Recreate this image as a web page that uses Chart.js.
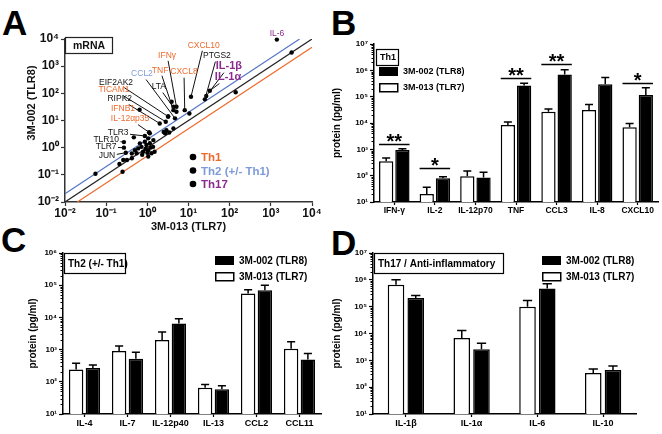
<!DOCTYPE html>
<html>
<head>
<meta charset="utf-8">
<script src="https://cdn.jsdelivr.net/npm/chart.js@4.4.0/dist/chart.umd.min.js"></script>
<style>
body { margin: 0; background: #fff; width: 662px; height: 434px; position: relative; overflow: hidden; font-family: "Liberation Sans", Arial, sans-serif; }
canvas { position: absolute; }
.letter { position: absolute; font-weight: bold; font-size: 35px; line-height: 1; color: #000; }
</style>
</head>
<body>
<div class="letter" style="left:2px;top:5px">A</div>
<div class="letter" style="left:331px;top:5px">B</div>
<div class="letter" style="left:1px;top:222px">C</div>
<div class="letter" style="left:331px;top:225px">D</div>
<canvas id="cA" width="330" height="236" style="left:0;top:0"></canvas>
<canvas id="cB" width="332" height="220" style="left:330px;top:0"></canvas>
<canvas id="cC" width="330" height="214" style="left:0;top:220px"></canvas>
<canvas id="cD" width="332" height="214" style="left:330px;top:220px"></canvas>
<script>
// ---- panel A: mRNA fold change, 3M-013 (x) vs 3M-002 (y)
const geneNames = ['IL-6', 'CXCL10', 'PTGS2', 'IL-1β', 'IL-1α', 'IFNγ', 'TNF', 'CXCL8', 'CCL2', 'LTA',
  'EIF2AK2', 'TICAM1', 'RIPK2', 'IFNB1', 'IL-12αp35', 'TLR3', 'TLR10', 'TLR7', 'JUN'];
const geneGroup = ['Th17', 'Th1', '', 'Th17', 'Th17', 'Th1', 'Th1', 'Th1', 'Th2', '',
  '', 'Th1', '', 'Th1', 'Th1', '', '', '', ''];
const geneXY = [[1400, 9500], [11.5, 75], [25, 60], [27, 80], [33, 125], [5.1, 32], [4.3, 24], [8.1, 24], [4.7, 12], [5.1, 21],
  [3.2, 14], [2.8, 9], [2.0, 7.8], [0.65, 25], [1.1, 3.7], [0.87, 2.7], [0.27, 1.6], [0.27, 1.0], [0.3, 0.65]];
const otherXY = [[3200, 3200], [140, 110], [10.5, 18], [0.055, 0.11], [0.21, 0.25], [0.25, 0.13], [0.26, 0.35],
  [0.42, 0.61], [0.5, 0.8], [0.6, 0.94], [0.72, 1.07], [0.79, 0.71], [0.95, 1.25], [1.05, 0.81], [1.15, 1.45],
  [1.26, 0.62], [0.87, 1.66], [0.66, 1.44], [0.55, 0.62], [0.42, 0.41], [0.32, 0.35], [1.4, 1.9], [1.05, 2.2],
  [1.15, 3.4], [1.38, 1.07], [1.5, 0.71], [2.5, 3.8], [2.9, 4.4], [2.7, 3.4], [4.3, 5.1], [3.2, 14], [4.3, 32],
  [3.9, 49], [0.47, 2.4], [1.05, 0.47], [1.0, 0.65], [3.4, 3.6], [0.9, 0.9], [0.75, 0.55], [1.2, 1.0]];
const identityLine = [[0.01, 0.01], [10000, 10000]];
const upperLine = [[0.01, 0.02], [5000, 10000]];
const lowerLine = [[0.02, 0.01], [10000, 5000]];

// ---- panel B: Th1 proteins (pg/ml)
const th1Cats = ['IFN-γ', 'IL-2', 'IL-12p70', 'TNF', 'CCL3', 'IL-8', 'CXCL10'];
const th1Tlr7 = [350, 20, 95, 8400, 27000, 31000, 6900];
const th1Tlr7Err = [470, 36, 150, 11000, 34000, 50000, 9500];
const th1Tlr8 = [950, 80, 85, 265000, 690000, 295000, 115000];
const th1Tlr8Err = [1050, 90, 135, 320000, 1050000, 530000, 220000];
const th1Sig = ['**', '*', '', '**', '**', '', '*'];
const th1SigAt = [1600, 200, null, 500000, 1700000, null, 320000];

// ---- panel C: Th2 (+/- Th1) proteins
const th2Cats = ['IL-4', 'IL-7', 'IL-12p40', 'IL-13', 'CCL2', 'CCL11'];
const th2Tlr7 = [240, 900, 2000, 65, 55000, 1070];
const th2Tlr7Err = [380, 1300, 3500, 83, 72000, 1750];
const th2Tlr8 = [270, 520, 6500, 59, 70000, 490];
const th2Tlr8Err = [330, 830, 9100, 76, 100000, 750];

// ---- panel D: Th17 / anti-inflammatory proteins
const th17Cats = ['IL-1β', 'IL-1α', 'IL-6', 'IL-10'];
const th17Tlr7 = [650000, 6800, 100000, 340];
const th17Tlr7Err = [1000000, 13000, 170000, 480];
const th17Tlr8 = [210000, 2600, 480000, 440];
const th17Tlr8Err = [260000, 4300, 720000, 610];

const FONT = '"Liberation Sans", Arial, sans-serif';
const ORANGE = '#ee6a2c', BLUE = '#7d9bd8', PURPLE = '#8a2a8e';
const groupColor = { Th1: ORANGE, Th2: BLUE, Th17: PURPLE, '': '#111' };

// label centres for panel A, in log10 data units
const geneLabelPos = [[3.15, 4.21], [1.37, 3.77], [1.69, 3.37], [1.98, 3.0], [1.96, 2.6], [0.48, 3.4], [0.31, 2.85], [0.89, 2.78],
  [-0.13, 2.71], [0.28, 2.23], [-0.76, 2.41], [-0.81, 2.12], [-0.67, 1.79], [-0.59, 1.42], [-0.42, 1.05], [-0.71, 0.54],
  [-1.0, 0.28], [-1.0, 0.02], [-0.98, -0.31]];

const SUP = { '-': '⁻', '0': '⁰', '1': '¹', '2': '²', '3': '³', '4': '⁴', '5': '⁵', '6': '⁶', '7': '⁷', '8': '⁸', '9': '⁹' };
function powLabel(v) {
  const e = Math.round(Math.log10(v));
  return '10' + String(e).split('').map(c => SUP[c]).join('');
}
function decades(a, b) {
  const t = [];
  for (let e = a; e <= b; e++) t.push({ value: Math.pow(10, e) });
  return t;
}
const xy = arr => arr.map(p => ({ x: p[0], y: p[1] }));

// small minor ticks on a log y axis
const minorTicks = {
  id: 'minorTicks',
  afterDraw(chart) {
    const y = chart.scales.y, ctx = chart.ctx;
    ctx.save();
    ctx.strokeStyle = '#000';
    ctx.lineWidth = 1;
    ctx.beginPath();
    const lo = Math.round(Math.log10(y.min)), hi = Math.round(Math.log10(y.max));
    for (let e = lo; e < hi; e++) {
      for (let k = 2; k < 10; k++) {
        const p = Math.round(y.getPixelForValue(k * Math.pow(10, e))) + 0.5;
        ctx.moveTo(y.right - 2.5, p);
        ctx.lineTo(y.right, p);
      }
    }
    ctx.stroke();
    ctx.restore();
  }
};

function errorBars(errs) {
  return {
    id: 'errorBars',
    afterDatasetsDraw(chart) {
      const ctx = chart.ctx, y = chart.scales.y;
      ctx.save();
      ctx.strokeStyle = '#000';
      ctx.lineWidth = 1.5;
      errs.forEach((arr, di) => {
        chart.getDatasetMeta(di).data.forEach((bar, i) => {
          const top = y.getPixelForValue(arr[i]);
          const cap = bar.width * 0.28;
          ctx.beginPath();
          ctx.moveTo(bar.x, bar.y);
          ctx.lineTo(bar.x, top);
          ctx.moveTo(bar.x - cap, top);
          ctx.lineTo(bar.x + cap, top);
          ctx.stroke();
        });
      });
      ctx.restore();
    }
  };
}

// title box + legend for the protein panels
function panelKey(title, box, leg, fontPx) {
  return {
    id: 'panelKey',
    afterDraw(chart) {
      const ctx = chart.ctx, a = chart.chartArea;
      ctx.save();
      ctx.lineWidth = 1.2;
      ctx.strokeStyle = '#000';
      ctx.fillStyle = '#fff';
      ctx.fillRect(a.left + box[0], a.top + box[1], box[2], box[3]);
      ctx.strokeRect(a.left + box[0] + 0.5, a.top + box[1] + 0.5, box[2], box[3]);
      ctx.fillStyle = '#000';
      ctx.font = 'bold ' + fontPx + 'px ' + FONT;
      ctx.textBaseline = 'middle';
      ctx.fillText(title, a.left + box[0] + 4, a.top + box[1] + box[3] / 2 + 1);
      const lx = a.left + leg[0], ly = a.top + leg[1];
      ctx.fillRect(lx, ly, 19, 9);
      ctx.lineWidth = 1.5;
      ctx.strokeRect(lx + 0.75, ly + 16 + 0.75, 18, 8);
      ctx.fillText('3M-002 (TLR8)', lx + 24, ly + 5);
      ctx.fillText('3M-013 (TLR7)', lx + 24, ly + 21);
      ctx.restore();
    }
  };
}

const sigMarks = {
  id: 'sigMarks',
  afterDatasetsDraw(chart) {
    const ctx = chart.ctx, y = chart.scales.y;
    const w = chart.getDatasetMeta(0).data, b = chart.getDatasetMeta(1).data;
    ctx.save();
    ctx.strokeStyle = '#000';
    ctx.fillStyle = '#000';
    ctx.lineWidth = 1.5;
    ctx.font = 'bold 20px ' + FONT;
    ctx.textAlign = 'center';
    ctx.textBaseline = 'alphabetic';
    th1Sig.forEach((s, i) => {
      if (!s) return;
      const py = Math.round(y.getPixelForValue(th1SigAt[i])) + 0.5;
      const x0 = w[i].x - w[i].width / 2, x1 = b[i].x + b[i].width / 2;
      ctx.beginPath();
      ctx.moveTo(x0, py);
      ctx.lineTo(x1, py);
      ctx.stroke();
      ctx.fillText(s, (x0 + x1) / 2, py + 3.5);
    });
    ctx.restore();
  }
};

function proteinChart(id, cats, w, wErr, b, bErr, maxExp, cfg) {
  const tickFont = { family: FONT, weight: 'bold', size: cfg.tickPx };
  return new Chart(document.getElementById(id), {
    type: 'bar',
    data: {
      labels: cats,
      datasets: [
        { label: '3M-013 (TLR7)', data: w, backgroundColor: '#fff', borderColor: '#000', borderWidth: 1.5,
          categoryPercentage: cfg.cat, barPercentage: cfg.bar },
        { label: '3M-002 (TLR8)', data: b, backgroundColor: '#000', borderColor: '#000', borderWidth: 1.5,
          categoryPercentage: cfg.cat, barPercentage: cfg.bar }
      ]
    },
    options: {
      responsive: false,
      animation: false,
      layout: { padding: { top: cfg.top, right: cfg.right, left: 0, bottom: 0 } },
      plugins: { legend: { display: false }, tooltip: { enabled: false } },
      scales: {
        x: {
          afterFit: s => { s.height = cfg.xh; },
          grid: { display: true, offset: false, drawOnChartArea: false, tickLength: 3, tickColor: '#000', tickWidth: 1.2 },
          border: { color: '#000', width: 1.5 },
          ticks: { color: '#000', font: tickFont, padding: 1, maxRotation: 0, minRotation: 0, autoSkip: false }
        },
        y: {
          type: 'logarithmic',
          min: 10,
          max: Math.pow(10, maxExp),
          afterBuildTicks: s => { s.ticks = decades(1, maxExp); },
          afterFit: s => { s.width = cfg.yw; },
          grid: { display: true, drawOnChartArea: false, tickLength: 4, tickColor: '#000', tickWidth: 1.2 },
          border: { color: '#000', width: 1.5 },
          ticks: { color: '#000', font: { family: FONT, weight: 'bold', size: 8 }, padding: 2, callback: v => powLabel(v) },
          title: { display: true, text: 'protein (pg/ml)', color: '#000',
            font: { family: FONT, weight: 'bold', size: 10 }, padding: { top: cfg.titlePad, bottom: 0 } }
        }
      }
    },
    plugins: [minorTicks, errorBars([wErr, bErr]), panelKey(cfg.title, cfg.box, cfg.leg, cfg.keyPx)].concat(cfg.extra || [])
  });
}

// ---- panel A chart
const geneLabels = {
  id: 'geneLabels',
  afterDatasetsDraw(chart) {
    const ctx = chart.ctx, xs = chart.scales.x, ys = chart.scales.y;
    ctx.save();
    ctx.textAlign = 'center';
    ctx.textBaseline = 'middle';
    geneNames.forEach((t, i) => {
      const big = t === 'IL-1β' || t === 'IL-1α';
      ctx.font = (big ? 'bold 11px ' : '8.5px ') + FONT;
      const cx = xs.getPixelForValue(Math.pow(10, geneLabelPos[i][0]));
      const cy = ys.getPixelForValue(Math.pow(10, geneLabelPos[i][1]));
      ctx.fillStyle = groupColor[geneGroup[i]];
      ctx.fillText(t, cx, cy);
      if (t === 'IL-6') return;
      const px = xs.getPixelForValue(geneXY[i][0]), py = ys.getPixelForValue(geneXY[i][1]);
      const hw = ctx.measureText(t).width / 2 + 1.5, hh = big ? 6.5 : 5.5;
      const dx = px - cx, dy = py - cy;
      const s = Math.min(dx ? Math.abs(hw / dx) : Infinity, dy ? Math.abs(hh / dy) : Infinity);
      ctx.strokeStyle = '#111';
      ctx.lineWidth = 1;
      ctx.beginPath();
      ctx.moveTo(cx + dx * s, cy + dy * s);
      ctx.lineTo(px, py);
      ctx.stroke();
    });
    // mRNA box
    ctx.strokeStyle = '#222';
    ctx.lineWidth = 1.2;
    ctx.fillStyle = '#fff';
    ctx.fillRect(65, 37, 47, 16);
    ctx.strokeRect(65.5, 37.5, 47, 16);
    ctx.fillStyle = '#111';
    ctx.font = 'bold 10.5px ' + FONT;
    ctx.fillText('mRNA', 89, 46);
    // y axis title, sits a little above the plot centre as in the figure
    ctx.save();
    ctx.translate(32, 103);
    ctx.rotate(-Math.PI / 2);
    ctx.font = 'bold 11px ' + FONT;
    ctx.fillText('3M-002 (TLR8)', 0, 0);
    ctx.restore();
    // group key
    const key = [['Th1', ORANGE], ['Th2 (+/- Th1)', BLUE], ['Th17', PURPLE]];
    ctx.textAlign = 'left';
    ctx.font = 'bold 11.5px ' + FONT;
    key.forEach((k, i) => {
      const yk = 157 + i * 13.5;
      ctx.fillStyle = '#000';
      ctx.beginPath();
      ctx.arc(193, yk, 3.3, 0, Math.PI * 2);
      ctx.fill();
      ctx.fillStyle = k[1];
      ctx.fillText(k[0], 201, yk + 1);
    });
    ctx.restore();
  }
};

const aTickFont = { family: FONT, weight: 'bold', size: 12 };
new Chart(document.getElementById('cA'), {
  type: 'scatter',
  data: {
    datasets: [
      { data: xy(geneXY.concat(otherXY)), pointRadius: 2.2, pointBackgroundColor: '#000', pointBorderWidth: 0, clip: false },
      { data: xy(upperLine), showLine: true, borderColor: '#5676c6', borderWidth: 1.2, pointRadius: 0 },
      { data: xy(identityLine), showLine: true, borderColor: '#222', borderWidth: 1.2, pointRadius: 0 },
      { data: xy(lowerLine), showLine: true, borderColor: '#ee6a2c', borderWidth: 1.2, pointRadius: 0 }
    ]
  },
  options: {
    responsive: false,
    animation: false,
    layout: { padding: { top: 39, right: 18, left: 0, bottom: 0 } },
    plugins: { legend: { display: false }, tooltip: { enabled: false } },
    scales: {
      x: {
        type: 'logarithmic', min: 0.01, max: 10000,
        afterBuildTicks: s => { s.ticks = decades(-2, 4); },
        afterFit: s => { s.height = 34; },
        grid: { display: true, drawOnChartArea: false, tickLength: 4, tickColor: '#333', tickWidth: 1.2 },
        border: { color: '#333', width: 1.5 },
        ticks: { color: '#111', font: aTickFont, padding: 0, maxRotation: 0, autoSkip: false, callback: v => powLabel(v) },
        title: { display: true, text: '3M-013 (TLR7)', color: '#111', font: { family: FONT, weight: 'bold', size: 11 },
          padding: { top: 0, bottom: 2 } }
      },
      y: {
        type: 'logarithmic', min: 0.01, max: 10000,
        afterBuildTicks: s => { s.ticks = decades(-2, 4); },
        afterFit: s => { s.width = 65; },
        grid: { display: true, drawOnChartArea: false, tickLength: 4, tickColor: '#333', tickWidth: 1.2 },
        border: { color: '#333', width: 1.5 },
        ticks: { color: '#111', font: aTickFont, padding: 2, autoSkip: false, callback: v => powLabel(v) }
      }
    }
  },
  plugins: [geneLabels]
});

proteinChart('cB', th1Cats, th1Tlr7, th1Tlr7Err, th1Tlr8, th1Tlr8Err, 7, {
  top: 44, right: 4, xh: 18, yw: 44, tickPx: 8.5, cat: 0.8, bar: 0.88, titlePad: 1,
  title: 'Th1', box: [2, 5, 22, 16], leg: [5, 23], keyPx: 9, extra: [sigMarks]
});
proteinChart('cC', th2Cats, th2Tlr7, th2Tlr7Err, th2Tlr8, th2Tlr8Err, 6, {
  top: 33, right: 9, xh: 20, yw: 63, tickPx: 9, cat: 0.78, bar: 0.86, titlePad: 27,
  title: 'Th2 (+/- Th1)', box: [1, 0, 61, 20], leg: [152, 3], keyPx: 10
});
proteinChart('cD', th17Cats, th17Tlr7, th17Tlr7Err, th17Tlr8, th17Tlr8Err, 7, {
  top: 33, right: 26, xh: 20, yw: 43, tickPx: 9, cat: 0.6, bar: 0.84, titlePad: 1,
  title: 'Th17 / Anti-inflammatory', box: [1, 0, 129, 20], leg: [169, 3], keyPx: 10
});
</script>
</body>
</html>
